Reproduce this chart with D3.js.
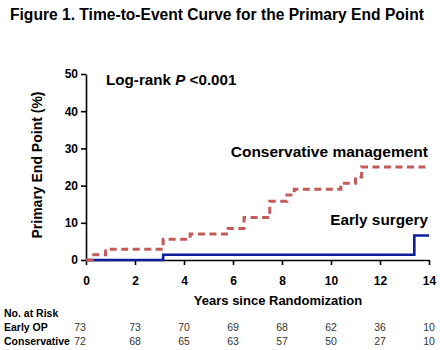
<!DOCTYPE html>
<html>
<head>
<meta charset="utf-8">
<script src="https://cdn.jsdelivr.net/npm/d3@7"></script>
<style>
  body { margin: 0; background: #fff; }
  svg { display: block; font-family: "Liberation Sans", Arial, sans-serif; }
</style>
</head>
<body>
<svg id="chart" width="440" height="350"></svg>
<script>
// data (years, cumulative %)
const earlyTimes = [0, 3.15, 13.4, 14];
const earlyValues = [0, 1.4, 6.6, 6.6];

const consTimes = [0, 0.25, 0.8, 3.15, 4.25, 5.8, 6.45, 7.5, 8.2, 8.5, 10.4, 11.0, 11.25, 14];
const consValues = [0, 1.4, 2.9, 5.6, 7.0, 8.5, 11.4, 15.8, 17.5, 19.0, 20.6, 22.3, 25.0, 25.0];

const xTicks = [0, 2, 4, 6, 8, 10, 12, 14];
const yTicks = [0, 10, 20, 30, 40, 50];

const riskEarly = [73, 73, 70, 69, 68, 62, 36, 10];
const riskCons = [72, 68, 65, 63, 57, 50, 27, 10];

const svg = d3.select('#chart');

// plot area
const margin = { top: 74, left: 86 };
const innerWidth = 343;
const innerHeight = 186;

const chart = svg.append('g')
  .attr('transform', `translate(${margin.left},${margin.top})`);

const x = d3.scaleLinear().domain([0, 14]).range([0, innerWidth]);
const y = d3.scaleLinear().domain([0, 50]).range([innerHeight, 0]);

// title
svg.append('text')
  .attr('x', 10)
  .attr('y', 20)
  .style('font-size', '15.6px')
  .style('font-weight', 'bold')
  .text('Figure 1. Time-to-Event Curve for the Primary End Point');

// axes
const xAxis = chart.append('g')
  .attr('transform', `translate(0,${innerHeight})`)
  .call(d3.axisBottom(x).tickValues(xTicks).tickSize(5).tickPadding(11).tickSizeOuter(0));

const yAxis = chart.append('g')
  .call(d3.axisLeft(y).tickValues(yTicks).tickSize(5).tickPadding(3).tickSizeOuter(0));

[xAxis, yAxis].forEach(ax => {
  ax.select('.domain').attr('stroke', '#000').attr('stroke-width', 1.6);
  ax.selectAll('.tick line').attr('stroke', '#000').attr('stroke-width', 1.6);
  ax.selectAll('.tick text')
    .attr('fill', '#000')
    .style('font-family', '"Liberation Sans", Arial, sans-serif')
    .style('font-size', '12px')
    .style('font-weight', 'bold');
});

// axis labels
svg.append('text')
  .attr('transform', 'rotate(-90)')
  .attr('x', -(margin.top + innerHeight / 2) + 2)
  .attr('y', 42)
  .attr('text-anchor', 'middle')
  .style('font-size', '14px')
  .style('font-weight', 'bold')
  .text('Primary End Point (%)');

svg.append('text')
  .attr('x', 278)
  .attr('y', 305)
  .attr('text-anchor', 'middle')
  .style('font-size', '13px')
  .style('font-weight', 'bold')
  .text('Years since Randomization');

// curves
const line = d3.line()
  .x(d => x(d[0]))
  .y(d => y(d[1]))
  .curve(d3.curveStepAfter);

chart.append('path')
  .datum(earlyTimes.map((t, i) => [t, earlyValues[i]]))
  .attr('d', line)
  .attr('fill', 'none')
  .attr('stroke', '#0f1f9c')
  .attr('stroke-width', 2.6);

chart.append('path')
  .datum(consTimes.map((t, i) => [t, consValues[i]]))
  .attr('d', line)
  .attr('fill', 'none')
  .attr('stroke', '#c45a5a')
  .attr('stroke-width', 3)
  .attr('stroke-dasharray', '7,4.5');

// annotations
const logRank = svg.append('text')
  .attr('x', 106)
  .attr('y', 85)
  .style('font-size', '15.2px')
  .style('font-weight', 'bold');
logRank.append('tspan').text('Log-rank ');
logRank.append('tspan').style('font-style', 'italic').text('P');
logRank.append('tspan').text(' <0.001');

svg.append('text')
  .attr('x', 428)
  .attr('y', 157)
  .attr('text-anchor', 'end')
  .style('font-size', '15.5px')
  .style('font-weight', 'bold')
  .text('Conservative management');

svg.append('text')
  .attr('x', 428)
  .attr('y', 225)
  .attr('text-anchor', 'end')
  .style('font-size', '15.3px')
  .style('font-weight', 'bold')
  .text('Early surgery');

// number at risk table
const table = svg.append('g').style('font-size', '10.5px');

table.append('text').attr('x', 4).attr('y', 317).style('font-weight', 'bold').text('No. at Risk');
table.append('text').attr('x', 4).attr('y', 331).style('font-weight', 'bold').text('Early OP');
table.append('text').attr('x', 4).attr('y', 345).style('font-weight', 'bold').text('Conservative');

// first column sits left of the axis, the rest under the ticks
const colX = (t, i) => i === 0 ? 80 : margin.left + x(t);

table.selectAll('.early')
  .data(riskEarly)
  .join('text')
    .attr('class', 'early')
    .attr('x', (d, i) => colX(xTicks[i], i))
    .attr('y', 331)
    .attr('text-anchor', 'middle')
    .attr('fill', '#333')
    .text(d => d);

table.selectAll('.cons')
  .data(riskCons)
  .join('text')
    .attr('class', 'cons')
    .attr('x', (d, i) => colX(xTicks[i], i))
    .attr('y', 345)
    .attr('text-anchor', 'middle')
    .attr('fill', '#333')
    .text(d => d);
</script>
</body>
</html>
